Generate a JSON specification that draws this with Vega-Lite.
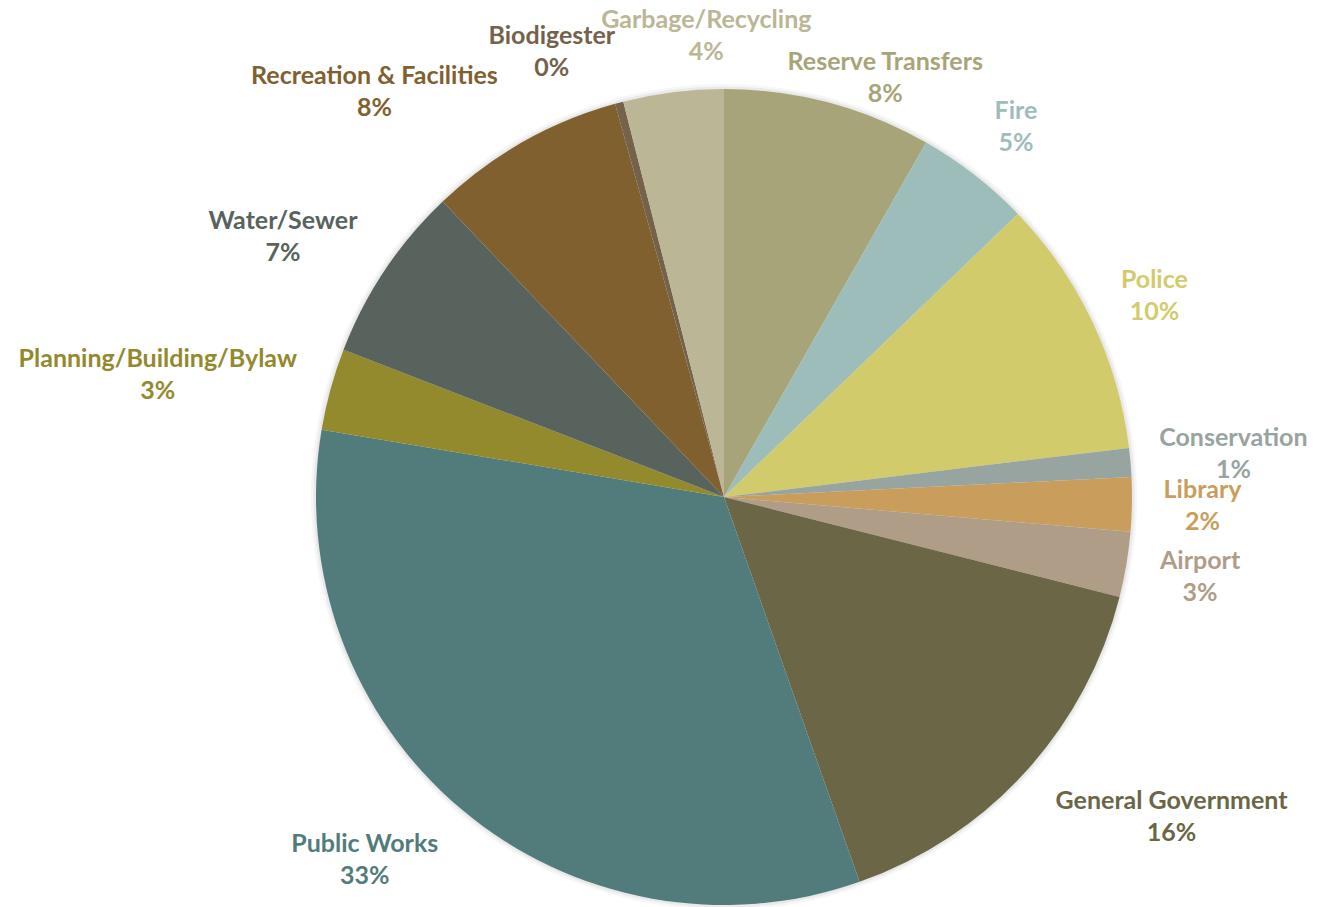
{
  "$schema": "https://vega.github.io/schema/vega-lite/v6.json",
  "width": 816,
  "height": 816,
  "autosize": {"type": "none"},
  "padding": {"left": 316, "top": 89, "right": 192, "bottom": 2},
  "background": "#ffffff",
  "config": {"view": {"stroke": null}},
  "data": {
    "values": [
      {"rank": 1, "name": "Reserve Transfers", "share": 0.0825},
      {"rank": 2, "name": "Fire", "share": 0.0455},
      {"rank": 3, "name": "Police", "share": 0.1028},
      {"rank": 4, "name": "Conservation", "share": 0.0114},
      {"rank": 5, "name": "Library", "share": 0.0214},
      {"rank": 6, "name": "Airport", "share": 0.0258},
      {"rank": 7, "name": "General Government", "share": 0.1567},
      {"rank": 8, "name": "Public Works", "share": 0.3303},
      {"rank": 9, "name": "Planning/Building/Bylaw", "share": 0.0324},
      {"rank": 10, "name": "Water/Sewer", "share": 0.0701},
      {"rank": 11, "name": "Recreation & Facilities", "share": 0.0781},
      {"rank": 12, "name": "Biodigester", "share": 0.0033},
      {"rank": 13, "name": "Garbage/Recycling", "share": 0.0397}
    ]
  },
  "encoding": {
    "theta": {"field": "share", "type": "quantitative", "stack": true, "scale": {"domain": [0, 1]}},
    "order": {"field": "rank", "type": "quantitative", "sort": "ascending"},
    "color": {
      "field": "name",
      "type": "nominal",
      "legend": null,
      "scale": {
        "domain": ["Reserve Transfers", "Fire", "Police", "Conservation", "Library", "Airport", "General Government", "Public Works", "Planning/Building/Bylaw", "Water/Sewer", "Recreation & Facilities", "Biodigester", "Garbage/Recycling"],
        "range": ["#A8A47A", "#9DBDBB", "#D2CB6B", "#97A49F", "#C99E5C", "#AF9D88", "#6A6646", "#527C7B", "#93892D", "#58635E", "#81602F", "#75624A", "#BAB696"]
      }
    }
  },
  "layer": [
    {
      "mark": {"type": "arc", "radius": 413, "color": "#000000", "opacity": 0.035},
      "encoding": {"color": {"value": "#000000"}}
    },
    {
      "mark": {"type": "arc", "radius": 410.5, "color": "#000000", "opacity": 0.05},
      "encoding": {"color": {"value": "#000000"}}
    },
    {
      "mark": {"type": "arc", "radius": 408}
    },
    {
      "mark": {
        "type": "text",
        "font": "Lato",
        "fontWeight": "bold",
        "fontSize": 25,
        "align": "center",
        "baseline": "middle",
        "radius": {"expr": "435 + 6.15*length(datum.name)*abs(sin(scale('theta', 0.5*datum.share_start+0.5*datum.share_end))) + 32*abs(cos(scale('theta', 0.5*datum.share_start+0.5*datum.share_end)))"},
        "dx": {"expr": "datum.name == 'Reserve Transfers' ? 35 : datum.name == 'General Government' ? 50 : datum.name == 'Public Works' ? -33 : datum.name == 'Planning/Building/Bylaw' ? -7 : datum.name == 'Water/Sewer' ? -18 : datum.name == 'Recreation & Facilities' ? -87 : datum.name == 'Biodigester' ? -48 : datum.name == 'Garbage/Recycling' ? 42 : datum.name == 'Police' ? -5 : 0"},
        "dy": {"expr": "-16 + (datum.name == 'Reserve Transfers' ? 57 : datum.name == 'Fire' ? 5 : datum.name == 'Police' ? 6 : datum.name == 'General Government' ? -43 : datum.name == 'Public Works' ? -25 : datum.name == 'Planning/Building/Bylaw' ? 31 : datum.name == 'Water/Sewer' ? 23 : datum.name == 'Recreation & Facilities' ? 58 : datum.name == 'Biodigester' ? 22 : datum.name == 'Garbage/Recycling' ? 15 : 0)"}
      },
      "encoding": {"text": {"field": "name", "type": "nominal"}}
    },
    {
      "mark": {
        "type": "text",
        "font": "Lato",
        "fontWeight": "bold",
        "fontSize": 25,
        "align": "center",
        "baseline": "middle",
        "radius": {"expr": "435 + 6.15*length(datum.name)*abs(sin(scale('theta', 0.5*datum.share_start+0.5*datum.share_end))) + 32*abs(cos(scale('theta', 0.5*datum.share_start+0.5*datum.share_end)))"},
        "dx": {"expr": "datum.name == 'Reserve Transfers' ? 35 : datum.name == 'General Government' ? 50 : datum.name == 'Public Works' ? -33 : datum.name == 'Planning/Building/Bylaw' ? -7 : datum.name == 'Water/Sewer' ? -18 : datum.name == 'Recreation & Facilities' ? -87 : datum.name == 'Biodigester' ? -48 : datum.name == 'Garbage/Recycling' ? 42 : datum.name == 'Police' ? -5 : 0"},
        "dy": {"expr": "16 + (datum.name == 'Reserve Transfers' ? 57 : datum.name == 'Fire' ? 5 : datum.name == 'Police' ? 6 : datum.name == 'General Government' ? -43 : datum.name == 'Public Works' ? -25 : datum.name == 'Planning/Building/Bylaw' ? 31 : datum.name == 'Water/Sewer' ? 23 : datum.name == 'Recreation & Facilities' ? 58 : datum.name == 'Biodigester' ? 22 : datum.name == 'Garbage/Recycling' ? 15 : 0)"}
      },
      "encoding": {"text": {"field": "share", "type": "quantitative", "format": ".0%"}}
    }
  ]
}
